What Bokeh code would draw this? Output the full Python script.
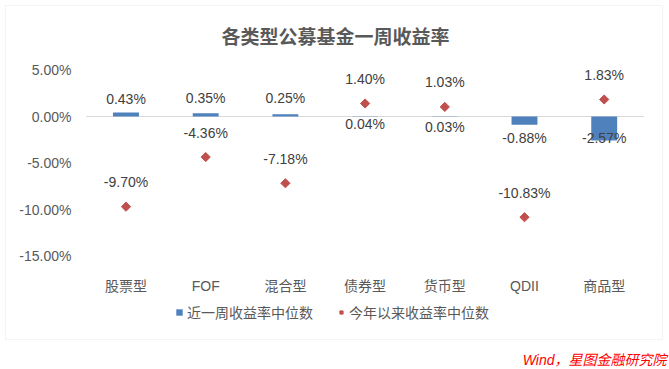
from bokeh.plotting import figure
from bokeh.models import (ColumnDataSource, Legend, LegendItem, Label, BoxAnnotation,
                          FixedTicker, PrintfTickFormatter, Range1d, LabelSet)
from bokeh.core.properties import value
from bokeh.embed import file_html
from bokeh.resources import INLINE
import math

categories = ["股票型", "FOF", "混合型", "债券型", "货币型", "QDII", "商品型"]
week_return = [0.43, 0.35, 0.25, 0.04, 0.03, -0.88, -2.57]
ytd_return = [-9.70, -4.36, -7.18, 1.40, 1.03, -10.83, 1.83]
y_ticks = [-15, -10, -5, 0, 5]

# label pixel offsets (screen px, positive = downward)
week_label_dy = [-14, -15, -16, 8, 11, 13, -2]

FONT = "Liberation Sans, Noto Sans CJK SC"
GRAY = "#595959"
DARK = "#404040"
BLUE = "#4f81bd"
RED = "#c0504d"

W, H = 669, 369
# pixel geometry of the plotting area (category pitch, px per percent, zero line)
X0, DX = 125.5, 79.7
Y0, DY = 116.0, 9.3

xs = list(range(len(categories)))
src = ColumnDataSource(dict(
    x=xs,
    week=week_return,
    ytd=ytd_return,
    week_txt=[f"{v:.2f}%" for v in week_return],
    ytd_txt=[f"{v:.2f}%" for v in ytd_return],
    week_dy=[-d for d in week_label_dy],
))

p = figure(width=W, height=H,
           x_range=Range1d(-X0 / DX, (W - X0) / DX),
           y_range=Range1d((Y0 - H) / DY, Y0 / DY),
           output_backend="svg", toolbar_location=None,
           min_border_left=0, min_border_right=0, min_border_top=0, min_border_bottom=0)
p.outline_line_color = None
p.background_fill_color = "white"
p.border_fill_color = "white"
p.xgrid.visible = False
p.ygrid.visible = False

# outer chart box
p.add_layout(BoxAnnotation(left=5, right=662, top=H - 5, bottom=H - 339,
                           left_units="screen", right_units="screen",
                           top_units="screen", bottom_units="screen",
                           fill_alpha=0, line_color="#d9d9d9", line_width=1.2))

# zero line across the category band
p.segment(x0=[-0.5], y0=[0], x1=[len(categories) - 0.5], y1=[0],
          line_color="#d9d9d9", line_width=1.2)

bars = p.vbar(x="x", top="week", bottom=0, width=0.325, source=src,
              fill_color=BLUE, line_color=None)
pts = p.scatter(x="x", y="ytd", source=src, marker="square", angle=math.pi / 4,
                size=6.5, fill_color=RED, line_color=RED)

p.add_layout(LabelSet(x="x", y="week", text="week_txt", source=src, y_offset="week_dy",
                      text_align="center", text_baseline="middle",
                      text_font=value(FONT), text_font_size="14px", text_color=DARK))
p.add_layout(LabelSet(x="x", y="ytd", text="ytd_txt", source=src, y_offset=24.5,
                      text_align="center", text_baseline="middle",
                      text_font=value(FONT), text_font_size="14px", text_color=DARK))

# axes (labels drawn inside the chart box)
p.yaxis.ticker = FixedTicker(ticks=y_ticks)
p.yaxis.formatter = PrintfTickFormatter(format="%.2f%%")
p.yaxis.axis_line_color = None
p.yaxis.major_tick_line_color = None
p.yaxis.minor_tick_line_color = None
p.yaxis.major_tick_in = 0
p.yaxis.major_tick_out = 0
p.yaxis.minor_tick_out = 0
p.yaxis.major_label_standoff = -71
p.yaxis.major_label_text_font = FONT
p.yaxis.major_label_text_font_size = "14px"
p.yaxis.major_label_text_color = GRAY

p.xaxis.ticker = FixedTicker(ticks=xs)
p.xaxis.major_label_overrides = {i: c for i, c in zip(xs, categories)}
p.xaxis.axis_line_color = None
p.xaxis.major_tick_line_color = None
p.xaxis.minor_tick_line_color = None
p.xaxis.major_tick_in = 0
p.xaxis.major_tick_out = 0
p.xaxis.minor_tick_out = 0
p.xaxis.major_label_standoff = -92
p.xaxis.major_label_text_font = FONT
p.xaxis.major_label_text_font_size = "14px"
p.xaxis.major_label_text_color = GRAY

legend = Legend(items=[LegendItem(label="近一周收益率中位数", renderers=[bars]),
                       LegendItem(label="今年以来收益率中位数", renderers=[pts])],
                location=(175, H - 322), orientation="horizontal",
                glyph_width=8, glyph_height=8, label_standoff=4, spacing=24,
                padding=0, margin=0, border_line_color=None, background_fill_alpha=0,
                label_text_font=FONT, label_text_font_size="14px", label_text_color=GRAY,
                label_height=16)
p.add_layout(legend)

p.add_layout(Label(x=335, y=H - 37, x_units="screen", y_units="screen",
                   text="各类型公募基金一周收益率", text_align="center", text_baseline="middle",
                   text_font=FONT, text_font_size="19px", text_font_style="bold",
                   text_color=GRAY))
p.add_layout(Label(x=666, y=H - 359, x_units="screen", y_units="screen",
                   text="Wind，星图金融研究院", text_align="right", text_baseline="middle",
                   text_font=FONT, text_font_size="14px", text_font_style="italic",
                   text_color="#ff0000"))

open("out.html", "w").write(file_html(p, INLINE))
